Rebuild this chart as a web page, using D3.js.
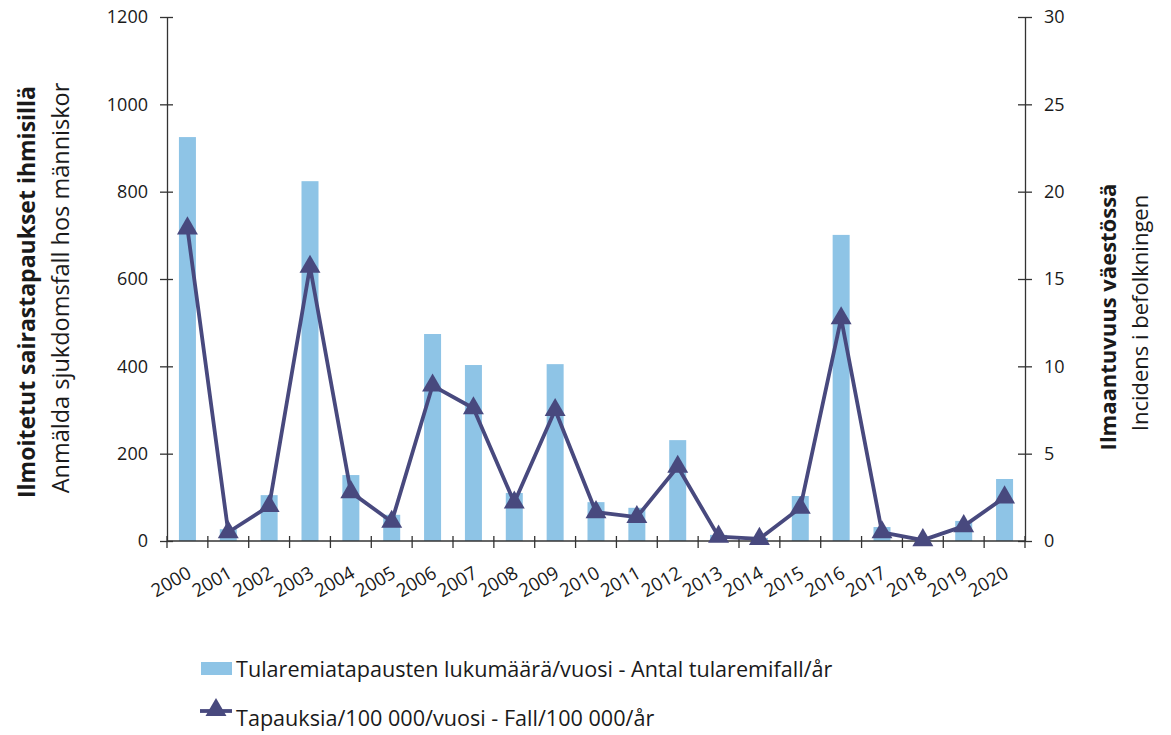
<!DOCTYPE html>
<html>
<head>
<meta charset="utf-8">
<script src="https://cdn.jsdelivr.net/npm/d3@7"></script>
<style>
  body { margin: 0; background: #fff; }
  svg text { font-family: "Open Sans", Lato, sans-serif; fill: #1a1a1a; }
</style>
</head>
<body>
<svg id="chart" width="1171" height="735"></svg>
<script>
// data
const years = ["2000","2001","2002","2003","2004","2005","2006","2007","2008","2009","2010",
               "2011","2012","2013","2014","2015","2016","2017","2018","2019","2020"];
const cases = [925, 27, 105, 824, 151, 60, 474, 403, 110, 405, 89, 76, 231, 14, 7, 103, 701, 32, 3, 46, 142];
const incidence = [17.9, 0.5, 2.0, 15.7, 2.8, 1.1, 8.9, 7.6, 2.2, 7.5, 1.65, 1.37, 4.25, 0.25, 0.12, 1.9, 12.75, 0.5, 0.05, 0.85, 2.5];
const leftTicks = [0, 200, 400, 600, 800, 1000, 1200];
const rightTicks = [0, 5, 10, 15, 20, 25, 30];

const barColor = "#8ec4e6";
const lineColor = "#48497e";
const axisColor = "#333";

const svg = d3.select("#chart");
const m = { left: 167, right: 1025, top: 17, bottom: 541 };

const x = d3.scaleBand().domain(years).range([m.left, m.right]);
const yL = d3.scaleLinear().domain([0, 1200]).range([m.bottom, m.top]);
const yR = d3.scaleLinear().domain([0, 30]).range([m.bottom, m.top]);

// bars
svg.append("g").selectAll("rect")
  .data(cases)
  .join("rect")
  .attr("x", (d, i) => x(years[i]) + x.bandwidth() / 2 - 8.5)
  .attr("width", 17)
  .attr("y", d => yL(d))
  .attr("height", d => m.bottom - yL(d))
  .attr("fill", barColor);

// axes
function styleAxis(g) {
  g.select(".domain").attr("stroke", axisColor).attr("stroke-width", 1.3);
  g.selectAll(".tick line").attr("stroke", axisColor).attr("stroke-width", 1.3);
  g.selectAll(".tick text").style("font-size", "18px").attr("fill", "#1a1a1a");
}

svg.append("g")
  .attr("transform", `translate(${m.left},0)`)
  .call(d3.axisLeft(yL).tickValues(leftTicks).tickFormat(d3.format("d"))
    .tickSize(6).tickSizeOuter(0).tickPadding(13))
  .call(styleAxis)
  .call(g => g.selectAll(".tick line").attr("x2", -7).attr("x1", 6));

svg.append("g")
  .attr("transform", `translate(${m.right},0)`)
  .call(d3.axisRight(yR).tickValues(rightTicks).tickSize(6).tickSizeOuter(0).tickPadding(13))
  .call(styleAxis)
  .call(g => g.selectAll(".tick line").attr("x1", -7).attr("x2", 7));

// x axis: ticks at category boundaries
const bounds = years.map(y => x(y)).concat([m.right]);
const gx = svg.append("g");
gx.append("line")
  .attr("x1", m.left).attr("x2", m.right)
  .attr("y1", m.bottom).attr("y2", m.bottom)
  .attr("stroke", axisColor).attr("stroke-width", 1.3);
gx.selectAll("line.tk")
  .data(bounds)
  .join("line")
  .attr("class", "tk")
  .attr("x1", d => d).attr("x2", d => d)
  .attr("y1", m.bottom - 5).attr("y2", m.bottom + 7)
  .attr("stroke", axisColor).attr("stroke-width", 1.3);
gx.selectAll("text")
  .data(years)
  .join("text")
  .attr("text-anchor", "end")
  .attr("transform", d => `translate(${x(d) + x.bandwidth() / 2 + 2},${m.bottom + 30}) rotate(-30)`)
  .attr("dy", "0.35em")
  .style("font-size", "18.5px")
  .text(d => d);

// line series
const line = d3.line()
  .x((d, i) => x(years[i]) + x.bandwidth() / 2)
  .y(d => yR(d));
svg.append("path")
  .datum(incidence)
  .attr("d", line)
  .attr("fill", "none")
  .attr("stroke", lineColor)
  .attr("stroke-width", 3.8)
  .attr("stroke-linejoin", "round");

const tri = d3.symbol().type(d3.symbolTriangle).size(190);
svg.append("g").selectAll("path")
  .data(incidence)
  .join("path")
  .attr("transform", (d, i) => `translate(${x(years[i]) + x.bandwidth() / 2},${yR(d)})`)
  .attr("d", tri)
  .attr("fill", lineColor);

// axis titles
svg.append("text")
  .attr("transform", "translate(35,292) rotate(-90)")
  .attr("text-anchor", "middle")
  .style("font-size", "23px").style("font-weight", "bold")
  .text("Ilmoitetut sairastapaukset ihmisillä");
svg.append("text")
  .attr("transform", "translate(69,288) rotate(-90)")
  .attr("text-anchor", "middle")
  .style("font-size", "23.5px")
  .text("Anmälda sjukdomsfall hos människor");
svg.append("text")
  .attr("transform", "translate(1116,317) rotate(-90)")
  .attr("text-anchor", "middle")
  .style("font-size", "22px").style("font-weight", "bold")
  .text("Ilmaantuvuus väestössä");
svg.append("text")
  .attr("transform", "translate(1148,313) rotate(-90)")
  .attr("text-anchor", "middle")
  .style("font-size", "22px")
  .text("Incidens i befolkningen");

// legend
const lg = svg.append("g");
lg.append("rect")
  .attr("x", 201).attr("y", 662).attr("width", 31).attr("height", 13)
  .attr("fill", barColor);
lg.append("text")
  .attr("x", 236).attr("y", 677)
  .style("font-size", "21.6px")
  .text("Tularemiatapausten lukumäärä/vuosi - Antal tularemifall/år");
lg.append("line")
  .attr("x1", 200).attr("x2", 232).attr("y1", 711).attr("y2", 711)
  .attr("stroke", lineColor).attr("stroke-width", 3.8);
lg.append("path")
  .attr("transform", "translate(216,710)")
  .attr("d", tri)
  .attr("fill", lineColor);
lg.append("text")
  .attr("x", 236).attr("y", 726)
  .style("font-size", "21.6px")
  .text("Tapauksia/100 000/vuosi - Fall/100 000/år");
</script>
</body>
</html>
